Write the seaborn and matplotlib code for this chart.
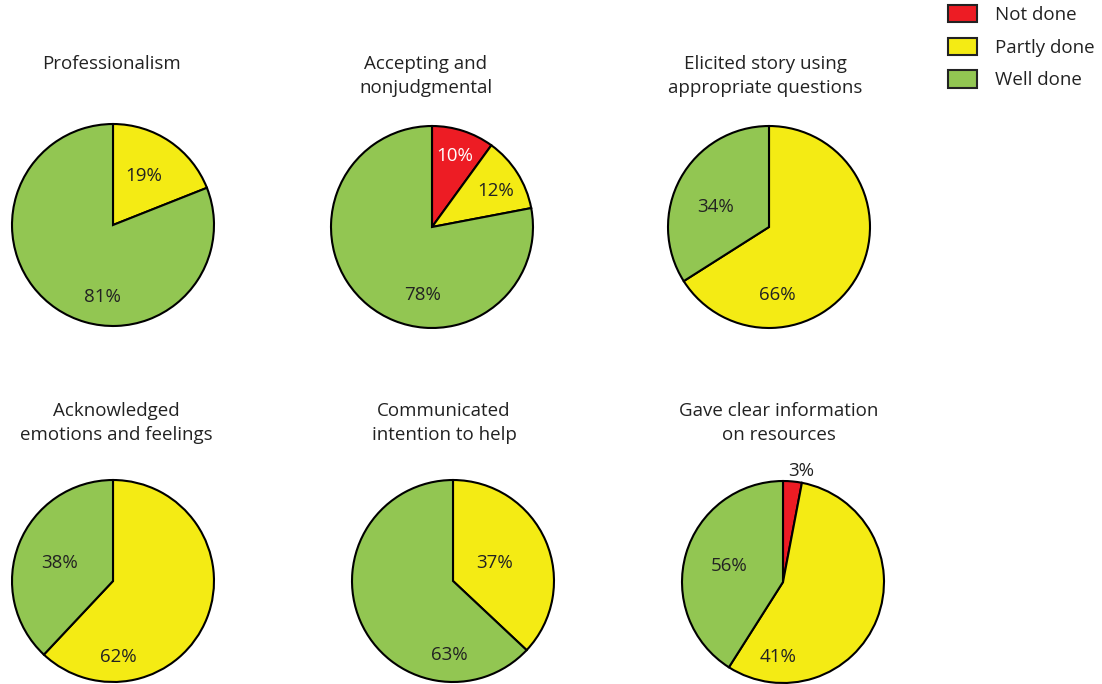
import matplotlib
matplotlib.use("Agg")
import matplotlib.pyplot as plt
import seaborn as sns
from matplotlib.patches import Patch

sns.set_theme(style="white")
plt.rcParams['font.family'] = ['Open Sans', 'DejaVu Sans']

categories = ["Not done", "Partly done", "Well done"]
titles = ["Professionalism", "Accepting and\nnonjudgmental", "Elicited story using\nappropriate questions",
          "Acknowledged\nemotions and feelings", "Communicated\nintention to help",
          "Gave clear information\non resources"]
not_done = [0, 10, 0, 0, 0, 3]
partly_done = [19, 12, 66, 62, 37, 56]
well_done = [81, 78, 34, 38, 63, 41]

colors = ["#ED1C24", "#F4EB14", "#92C652"]
W, H = 1102, 684
centres = [(113, 225), (432, 227), (769, 227), (113, 581), (453, 581), (783, 582)]
R = 102
title_x = [111, 426, 765, 116, 444, 779]
title_y = [55, 55, 55, 402, 402, 402]
# label positions relative to centre, in radius units, per pie/category
label_pos = [
    [None, (0.30, 0.49), (-0.10, -0.71)],
    [(0.23, 0.70), (0.63, 0.36), (-0.09, -0.67)],
    [None, (0.08, -0.67), (-0.53, 0.20)],
    [None, (0.05, -0.75), (-0.53, 0.18)],
    [None, (0.41, 0.18), (-0.04, -0.73)],
    [(0.18, 1.10), (-0.53, 0.16), (-0.05, -0.74)],
]
label_colors = ["white", "#222222", "#222222"]

fig = plt.figure(figsize=(W / 100, H / 100), dpi=100)
fs = 13.5

for i in range(6):
    vals = [not_done[i], partly_done[i], well_done[i]]
    cx, cy = centres[i]
    ax = fig.add_axes([(cx - R) / W, 1 - (cy + R) / H, 2 * R / W, 2 * R / H])
    keep = [j for j in range(3) if vals[j] > 0]
    ax.pie([vals[j] for j in keep], colors=[colors[j] for j in keep], startangle=90,
           counterclock=False, radius=1,
           wedgeprops=dict(edgecolor="black", linewidth=1.5))
    ax.set_xlim(-1.01, 1.01)
    ax.set_ylim(-1.01, 1.01)
    ax.set_aspect("equal")
    ax.axis("off")
    for j in keep:
        px, py = label_pos[i][j]
        col = label_colors[j]
        if abs(py) > 1:
            col = "#222222"
        ax.text(px, py, f"{vals[j]}%", ha="center", va="center", fontsize=fs,
                color=col, clip_on=False)
    fig.text(title_x[i] / W, 1 - title_y[i] / H, titles[i], ha="center", va="top",
             fontsize=fs, color="#222222", linespacing=1.4)

handles = [Patch(facecolor=c, edgecolor="#222222", linewidth=1.5) for c in colors]
fig.legend(handles, categories, loc="upper left", bbox_to_anchor=(948 / W, 1 - 5 / H),
           frameon=False, fontsize=fs, handlelength=1.55, handleheight=1.05,
           labelspacing=0.72, handletextpad=0.95, borderpad=0, borderaxespad=0,
           labelcolor="#222222")

fig.savefig("out.png", dpi=100)
